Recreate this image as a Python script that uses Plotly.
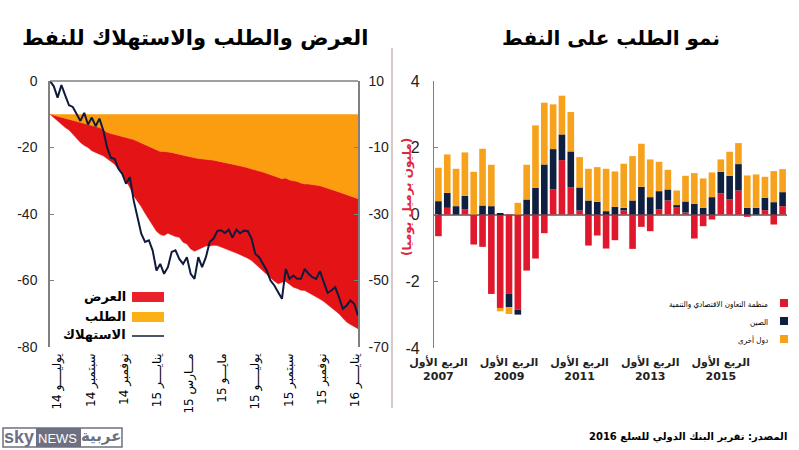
import pandas as pd
import plotly.graph_objects as go

ARABIC = "DejaVu Sans"
NARROW = "Liberation Sans Narrow, Liberation Sans"

# right panel: quarterly demand growth, mb/d
quarters = [f"{y}Q{q}" for y in range(2007, 2017) for q in range(1, 5)]
oecd = [-0.65, 0.2, 0, 0.15, -0.9, -0.97, -2.38, -2.8, -2.38, -2.85,
        -1.68, -1.32, -0.56, 0.76, 1.63, 0.82, 0.12, -0.93, -0.63, -1.02,
        -0.77, 0.12, -1.03, -0.37, -0.5, 0.15, 0.42, 0.25, 0.06, -0.72,
        -0.35, -0.15, 0.63, 0.45, 0.72, -0.07, 0, 0.13, -0.3, 0.25]
china = [0.4, 0.45, 0.25, 0.41, 0, 0.27, 0.25, 0.02, -0.4, -0.15,
         0.45, 0.8, 1.5, 1.2, 0.77, 1.07, 0.69, 0.42, 0.38, 0.1,
         0.23, 0.08, 0.42, 0.83, 0.52, 0.55, 0.33, 0.03, 0.33, 0.32,
         0.2, 0.52, 0.65, 0.71, 0.79, 0.2, 0.2, 0.37, 0.37, 0.42]
others = [1.0, 1.15, 1.12, 1.3, 1.28, 1.7, 1.24, -0.1, -0.2, 0.35,
          1.04, 1.87, 1.85, 1.34, 1.16, 1.18, 0.91, 0.95, 1.04, 1.27,
          1.06, 1.32, 1.33, 1.29, 1.13, 0.88, 0.59, 0.44, 0.77, 0.92,
          0.88, 0.74, 0.37, 0.72, 0.63, 0.97, 1.0, 0.63, 0.93, 0.69]
quarter_ticks = ["2007Q1", "2009Q1", "2011Q1", "2013Q1", "2015Q1"]
quarter_labels = [f"الربع الأول<br>{y}" for y in (2007, 2009, 2011, 2013, 2015)]
growth_ticks = [4, 2, 0, -2, -4]
growth_labels = ["4", "2", "0", "-2", "-4"]

# left panel: weekly, demand and supply read on the right axis, consumption on the left one
consumption = [0, -1.6, -5, -1.2, -4.3, -7.3, -7.8, -9.8, -12, -9.6,
               -13.1, -11, -13.6, -11.3, -14.8, -19.9, -23.1, -23.4, -26.4, -27.9,
               -30.9, -28.9, -35.9, -40.9, -45.9, -48.4, -47.9, -51, -57, -55,
               -58, -56, -51.4, -50.9, -53.5, -55, -53, -58, -59.5, -53,
               -56, -53, -48.4, -47.4, -45.1, -44.9, -45.7, -44.7, -47.1, -44.7,
               -45.8, -45, -45.1, -47.4, -52, -53, -55, -57, -60, -61.5,
               -63.5, -65.5, -56.5, -59.5, -58.5, -59.5, -59.5, -56.5, -58, -59,
               -59.5, -57.2, -60.5, -63.7, -63, -62, -65, -68.5, -67.5, -66,
               -67, -70.5]
demand = [0, -0.3, -0.7, -1, -1.3, -1.6, -1.9, -2.2, -2.5, -2.8,
          -3, -3.3, -3.6, -4, -4.6, -5.4, -5.8, -6.1, -6.3, -6.6,
          -6.9, -7.2, -7.6, -8.1, -8.6, -9.1, -9.6, -10.3, -10.8, -11.2,
          -11.2, -11.3, -11.5, -11.8, -12.1, -12.4, -12.7, -13, -13.1, -13.3,
          -13.5, -13.6, -13.7, -13.8, -14.1, -14.3, -14.6, -14.8, -15, -15.2,
          -15.5, -15.8, -16.1, -16.5, -16.8, -17.1, -17.4, -17.8, -18.2, -18.7,
          -19.2, -19.4, -19.2, -19.8, -20, -20.2, -20.7, -21, -21, -21.1,
          -21.2, -21.5, -21.9, -22.2, -22.7, -23, -23.4, -23.8, -24.1, -24.6,
          -25, -25.4]
supply = [0, -1, -2, -2.8, -4, -4.7, -6, -7, -8.5, -9.4,
          -10, -11, -11.4, -12, -12.5, -13.3, -14, -15, -16.6, -18,
          -20, -22, -24.5, -26, -27.8, -29.8, -31.5, -33.5, -35.2, -36.2,
          -36.5, -35.8, -36.3, -36.8, -37, -38.5, -39, -40.5, -41.2, -40.6,
          -40, -39.6, -39.6, -39.4, -39.5, -40, -40.3, -40.9, -41.3, -41.7,
          -42.2, -42.7, -43.3, -44, -45, -46.2, -47, -48.2, -49.3, -50.2,
          -51, -50.5, -50.3, -51.3, -52, -52.4, -52.9, -53, -53.6, -54.2,
          -54.8, -55.6, -56.3, -57.2, -58, -59, -60, -61.3, -62.5, -63.2,
          -63.8, -64.5]
zero_line = [0] * len(demand)
weeks = pd.date_range("2014-07-01", periods=len(consumption), freq="7D")
month_ticks = ["2014-07-14", "2014-09-14", "2014-11-14", "2015-01-14", "2015-03-14",
               "2015-05-14", "2015-07-14", "2015-09-14", "2015-11-14", "2016-01-14"]
month_labels = ["يوليــــو 14", "سبتمبر 14", "نوفمبر 14", "ينايــــر 15", "مـــارس 15",
                "مايـــو 15", "يوليــــو 15", "سبتمبر 15", "نوفمبر 15", "ينايــــر 16"]
left_ticks = [0, -20, -40, -60, -80]
left_labels = ["0", "-20", "-40", "-60", "-80"]
right_ticks = [10, -10, -30, -50, -70]
right_labels = ["10", "-10", "-30", "-50", "-70"]

RED = "#e31316"
ORANGE = "#fb9d0e"
NAVY = "#101a3c"
GREY = "#808080"

fig = go.Figure()

# left panel
fig.add_trace(go.Scatter(x=weeks, y=zero_line, mode="lines", line=dict(width=0), xaxis="x", yaxis="y",
                         hoverinfo="skip", showlegend=False))
fig.add_trace(go.Scatter(x=weeks, y=demand, mode="lines", line=dict(width=0.5, color=ORANGE), fill="tonexty",
                         fillcolor=ORANGE, xaxis="x", yaxis="y", name="الطلب"))
fig.add_trace(go.Scatter(x=weeks, y=supply, mode="lines", line=dict(width=0.5, color=RED), fill="tonexty",
                         fillcolor=RED, xaxis="x", yaxis="y", name="العرض"))
fig.add_trace(go.Scatter(x=weeks, y=consumption, mode="lines", line=dict(width=2, color=NAVY),
                         xaxis="x", yaxis="y2", name="الاستهلاك"))

# right panel
for vals, color, name in [(oecd, "#e0182d", "منظمة التعاون الاقتصادي والتنمية"),
                          (china, "#0f1f3f", "الصين"),
                          (others, "#f6a21c", "دول أخرى")]:
    fig.add_trace(go.Bar(x=quarters, y=vals, marker=dict(color=color, line_width=0), xaxis="x2", yaxis="y3", name=name))


def note(text, x, y, size, color="black", anchor="center", bold=False, family=ARABIC, angle=0):
    if bold:
        text = f"<b>{text}</b>"
    fig.add_annotation(text=text, xref="paper", yref="paper", x=x / 799, y=1 - y / 450, showarrow=False,
                       xanchor=anchor, yanchor="middle", textangle=angle,
                       font=dict(family=family, size=size, color=color))


def box(x0, y0, x1, y1, color, line=None):
    fig.add_shape(type="rect", xref="paper", yref="paper", x0=x0 / 799, x1=x1 / 799, y0=1 - y0 / 450, y1=1 - y1 / 450,
                  fillcolor=color, line=dict(width=1.5 if line else 0, color=line))


def rule(x0, y0, x1, y1, color, width):
    fig.add_shape(type="line", xref="paper", yref="paper", x0=x0 / 799, x1=x1 / 799, y0=1 - y0 / 450, y1=1 - y1 / 450,
                  line=dict(color=color, width=width))


note("العرض والطلب والاستهلاك للنفط", 195, 38, 21, bold=True)
note("نمو الطلب على النفط", 611, 38, 20, bold=True)
note("\u202b(مليون برميل يوميا)\u202c", 407, 197, 12, color="#e0263c", bold=True, angle=-90)
note("\u202bالمصدر: تقرير البنك الدولي للسلع 2016\u202c", 789, 437, 10, anchor="right", bold=True)

# left legend
box(132, 292, 164, 302, "#e8212a")
box(132, 312, 164, 322, "#fbb116")
rule(132, 336, 164, 336, NAVY, 1.5)
note("العرض", 128, 296, 13, anchor="right", bold=True)
note("الطلب", 128, 316, 13, anchor="right", bold=True)
note("الاستهلاك", 128, 334, 13, anchor="right", bold=True)

# right legend
box(780, 299, 788, 307, "#e0182d")
box(780, 317, 788, 325, "#0f1f3f")
box(780, 335, 788, 343, "#f6a21c")
note("منظمة التعاون الاقتصادي والتنمية", 770, 304, 8, anchor="right", family="DejaVu Sans Condensed")
note("الصين", 770, 322, 8, anchor="right", family="DejaVu Sans Condensed")
note("دول أخرى", 770, 340, 8, anchor="right", family="DejaVu Sans Condensed")

# frame top and panel divider
rule(50, 81, 358, 81, GREY, 1.5)
rule(392, 48, 392, 408, "#d8c8ca", 2)

# logo
box(3, 428, 122, 447, "white", line="#6d7080")
box(36, 428, 81, 447, "#6d7080")
note("sky", 19, 437, 18, color="#6d7080", bold=True, family="Liberation Sans")
note("NEWS", 58, 438, 13, color="white", family="Liberation Sans")
note("عربية", 101, 436, 15, color="#6d7080", bold=True)

fig.update_layout(
    width=799, height=450, autosize=False, margin=dict(l=0, r=0, t=0, b=0, autoexpand=False),
    paper_bgcolor="white", plot_bgcolor="white", showlegend=False,
    barmode="relative", bargap=0.25,
    xaxis=dict(domain=[50 / 799, 358 / 799], anchor="y", range=[weeks[0], weeks[-1]], tickmode="array",
               tickvals=month_ticks, ticktext=[f"\u202b{t}\u202c" for t in month_labels], tickangle=-90,
               ticks="", showgrid=False, zeroline=False, automargin=False, ticklabelstandoff=3,
               tickfont=dict(family=ARABIC, size=12, color="black")),
    yaxis=dict(domain=[1 - 347 / 450, 1 - 81 / 450], range=[-70, 10], tickvals=right_ticks, ticktext=right_labels,
               side="right", anchor="x", ticks="inside", ticklen=4, tickcolor=GREY, showline=True,
               linecolor=GREY, linewidth=1.5, showgrid=False, zeroline=False, ticklabelstandoff=6, automargin=False,
               tickfont=dict(family=NARROW, size=14, color="#222")),
    yaxis2=dict(domain=[1 - 347 / 450, 1 - 81 / 450], range=[-80, 0], tickvals=left_ticks, ticktext=left_labels,
                overlaying="y", side="left", anchor="x", ticks="inside", ticklen=4, tickcolor=GREY, showline=True,
                linecolor=GREY, linewidth=1.5, showgrid=False, zeroline=False, ticklabelstandoff=8, automargin=False,
                tickfont=dict(family=NARROW, size=14, color="#222")),
    xaxis2=dict(domain=[434 / 799, 787 / 799], anchor="y3", type="category", categoryorder="array",
                categoryarray=quarters, range=[-0.5, 39.5], tickmode="array", tickvals=quarter_ticks,
                ticktext=[f"<b>{t}</b>" for t in quarter_labels], tickangle=0, ticks="", showgrid=False,
                zeroline=False, automargin=False, ticklabelstandoff=6,
                tickfont=dict(family=ARABIC, size=11, color="#222")),
    yaxis3=dict(domain=[1 - 348 / 450, 1 - 81 / 450], anchor="x2", range=[-4, 4], tickvals=growth_ticks,
                ticktext=growth_labels, ticks="inside", ticklen=4, tickcolor=GREY, showline=True, linecolor=GREY,
                linewidth=1.2, showgrid=False, zeroline=True, zerolinecolor=GREY, zerolinewidth=1.5,
                ticklabelstandoff=10, automargin=False, tickfont=dict(family="Liberation Sans", size=16, color="#222")),
)

# the page's default body margin would push the fixed-size figure off the window
fig.write_html("out.html", config=dict(displayModeBar=False), post_script="document.body.style.margin = '0';")
